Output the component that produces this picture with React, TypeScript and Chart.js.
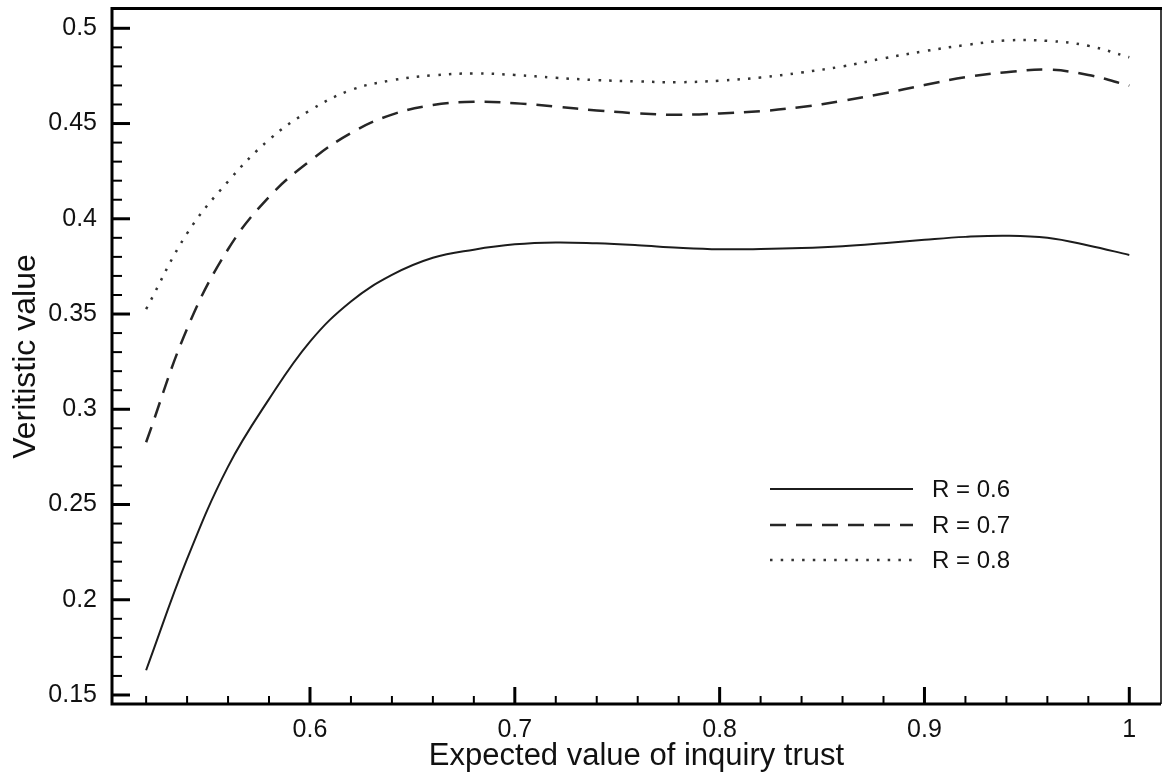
import React, { useEffect, useRef } from "react";
import { Chart, registerables } from "chart.js";

Chart.register(...registerables);

// ---- Data ----
const xValues = [
  0.52, 0.54, 0.56, 0.58, 0.6,
  0.62, 0.64, 0.66, 0.68, 0.7, 0.72, 0.74, 0.76, 0.78, 0.8,
  0.82, 0.84, 0.86, 0.88, 0.9, 0.92, 0.94, 0.96, 0.98, 1.0,
];
const r06 = [
  0.163, 0.2214, 0.2699, 0.3053, 0.3355,
  0.3566, 0.3705, 0.3795, 0.3838, 0.3866, 0.3876, 0.3871, 0.3861, 0.3848, 0.384,
  0.3841, 0.3846, 0.3856, 0.3872, 0.389, 0.3905, 0.3911, 0.39, 0.386, 0.381,
];
const r07 = [
  0.2827, 0.3423, 0.384, 0.4115, 0.4304,
  0.445, 0.4547, 0.4597, 0.4614, 0.4607, 0.4589, 0.4569, 0.4553, 0.4546, 0.4553,
  0.4565, 0.4587, 0.4619, 0.4658, 0.4702, 0.4743, 0.4769, 0.4783, 0.4755, 0.4699,
];
const r08 = [
  0.3526, 0.3923, 0.4196, 0.4415, 0.4569,
  0.4676, 0.4727, 0.4753, 0.4763, 0.4755, 0.474, 0.4728, 0.4721, 0.4717, 0.4725,
  0.4742, 0.4768, 0.48, 0.4842, 0.488, 0.4912, 0.4936, 0.4934, 0.4908, 0.4848,
];
const seriesLabels = ["R = 0.6", "R = 0.7", "R = 0.8"];

const xTickValues = [0.6, 0.7, 0.8, 0.9, 1];
const xTickLabels = ["0.6", "0.7", "0.8", "0.9", "1"];
const yTickValues = [0.15, 0.2, 0.25, 0.3, 0.35, 0.4, 0.45, 0.5];
const yTickLabels = ["0.15", "0.2", "0.25", "0.3", "0.35", "0.4", "0.45", "0.5"];

const xTitle = "Expected value of inquiry trust";
const yTitle = "Veritistic value";

const FONT = "'Liberation Sans', Arial, Helvetica, sans-serif";

function labelFor(values: number[], labels: string[], v: number) {
  const i = values.findIndex((t) => Math.abs(t - v) < 1e-6);
  return i >= 0 ? labels[i] : "";
}

const framePlugin = {
  id: "frameAndTicks",
  afterDatasetsDraw(chart: any) {
    const { ctx, chartArea: a, scales } = chart;
    const xs = scales.x;
    const ys = scales.y;
    ctx.save();
    ctx.strokeStyle = "#000";
    ctx.lineCap = "butt";
    ctx.setLineDash([]);

    // x ticks (inward)
    const xMinorStep = 0.02;
    for (let i = Math.ceil(xs.min / xMinorStep); i * xMinorStep <= xs.max; i++) {
      const v = i * xMinorStep;
      const major = xTickValues.some((t) => Math.abs(t - v) < 1e-6);
      const px = xs.getPixelForValue(v);
      if (px <= a.left + 2 || px >= a.right - 2) continue;
      ctx.lineWidth = major ? 3 : 2;
      ctx.beginPath();
      ctx.moveTo(px, a.bottom);
      ctx.lineTo(px, a.bottom - (major ? 17 : 8));
      ctx.stroke();
    }
    // y ticks (inward)
    const yMinorStep = 0.01;
    for (let i = Math.ceil(ys.min / yMinorStep); i * yMinorStep <= ys.max; i++) {
      const v = i * yMinorStep;
      const major = yTickValues.some((t) => Math.abs(t - v) < 1e-6);
      const py = ys.getPixelForValue(v);
      if (py <= a.top + 2 || py >= a.bottom - 2) continue;
      ctx.lineWidth = major ? 3 : 2;
      ctx.beginPath();
      ctx.moveTo(a.left, py);
      ctx.lineTo(a.left + (major ? 18 : 10), py);
      ctx.stroke();
    }

    // frame
    ctx.lineWidth = 3;
    ctx.beginPath();
    ctx.moveTo(a.left, a.top - 0.5);
    ctx.lineTo(a.left, a.bottom + 1.5);
    ctx.moveTo(a.left - 1.5, a.bottom);
    ctx.lineTo(a.right, a.bottom);
    ctx.moveTo(a.left - 1.5, a.top - 0.5);
    ctx.lineTo(a.right + 1, a.top - 0.5);
    ctx.stroke();
    ctx.lineWidth = 1.5;
    ctx.beginPath();
    ctx.moveTo(a.right, a.top);
    ctx.lineTo(a.right, a.bottom);
    ctx.stroke();

    // legend
    const lx0 = 770;
    const lx1 = 913;
    const lys = [489, 525, 560];
    chart.data.datasets.forEach((ds: any, i: number) => {
      const y = lys[i];
      ctx.strokeStyle = ds.borderColor;
      ctx.lineWidth = ds.borderWidth;
      ctx.setLineDash(ds.borderDash || []);
      ctx.beginPath();
      ctx.moveTo(lx0, y);
      ctx.lineTo(lx1, y);
      ctx.stroke();
      ctx.setLineDash([]);
      ctx.fillStyle = "#111";
      ctx.font = `24px ${FONT}`;
      ctx.textAlign = "left";
      ctx.textBaseline = "middle";
      ctx.fillText(ds.label, 932, y + 1);
    });
    ctx.restore();
  },
};

export default function App() {
  const ref = useRef<HTMLCanvasElement>(null);

  useEffect(() => {
    if (!ref.current) return;
    const mk = (ys: number[]) => xValues.map((x, i) => ({ x, y: ys[i] }));
    const common = { pointRadius: 0, tension: 0.4, fill: false };
    const chart = new Chart(ref.current, {
      type: "line",
      data: {
        datasets: [
          {
            label: seriesLabels[0],
            data: mk(r06),
            borderColor: "#1c1c1c",
            borderWidth: 2,
            borderDash: [],
            ...common,
          },
          {
            label: seriesLabels[1],
            data: mk(r07),
            borderColor: "#262626",
            borderWidth: 2.5,
            borderDash: [16, 10],
            ...common,
          },
          {
            label: seriesLabels[2],
            data: mk(r08),
            borderColor: "#333333",
            borderWidth: 2.5,
            borderDash: [2.5, 8.2],
            ...common,
          },
        ],
      },
      options: {
        animation: false,
        responsive: false,
        maintainAspectRatio: false,
        layout: { padding: { top: 9, right: 1, bottom: 0, left: 0 } },
        plugins: {
          legend: { display: false },
          tooltip: { enabled: false },
        },
        scales: {
          x: {
            type: "linear",
            min: 0.50334,
            max: 1.01548,
            afterBuildTicks: (s: any) => {
              s.ticks = xTickValues.map((v) => ({ value: v }));
            },
            afterFit: (s: any) => {
              s.height = 80;
              s.paddingLeft = 0;
              s.paddingRight = 0;
            },
            grid: { display: false, drawTicks: false },
            border: { display: false },
            ticks: {
              padding: 11,
              color: "#111",
              font: { family: FONT, size: 25 },
              maxRotation: 0,
              autoSkip: false,
              callback: (v: any) => labelFor(xTickValues, xTickLabels, Number(v)),
            },
            title: {
              display: true,
              text: xTitle,
              color: "#111",
              font: { family: FONT, size: 31 },
              padding: { top: 0, bottom: 9 },
            },
          },
          y: {
            type: "linear",
            min: 0.14527,
            max: 0.51013,
            afterBuildTicks: (s: any) => {
              s.ticks = yTickValues.map((v) => ({ value: v }));
            },
            afterFit: (s: any) => {
              s.width = 112;
              s.paddingTop = 0;
              s.paddingBottom = 0;
            },
            grid: { display: false, drawTicks: false },
            border: { display: false },
            ticks: {
              padding: 15,
              color: "#111",
              font: { family: FONT, size: 25 },
              autoSkip: false,
              callback: (v: any) => labelFor(yTickValues, yTickLabels, Number(v)),
            },
            title: {
              display: true,
              text: yTitle,
              color: "#111",
              font: { family: FONT, size: 32 },
              padding: { top: 7, bottom: 0 },
            },
          },
        },
      },
      plugins: [framePlugin],
    } as any);
    return () => chart.destroy();
  }, []);

  return (
    <div
      style={{
        position: "absolute",
        left: 0,
        top: 0,
        width: 1162,
        height: 784,
        background: "#fff",
      }}
    >
      <canvas ref={ref} width={1162} height={784} style={{ display: "block" }} />
    </div>
  );
}
